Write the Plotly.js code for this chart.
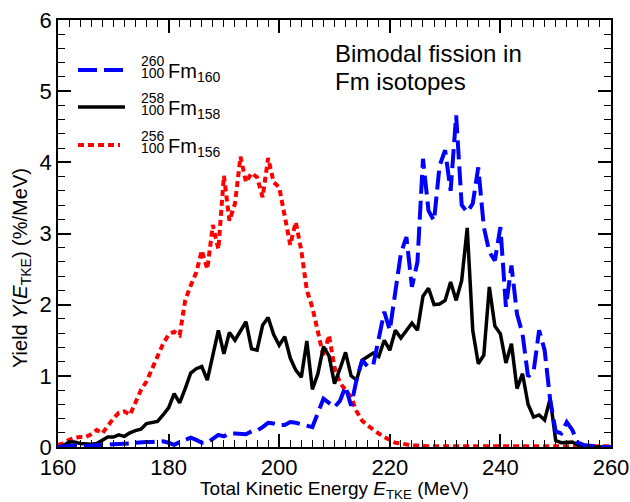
<!DOCTYPE html>
<html>
<head>
<meta charset="utf-8">
<script src="https://cdn.plot.ly/plotly-3.0.1.min.js"></script>
<style>
  html, body { margin: 0; padding: 0; background: #fff; }
  #chart { width: 630px; height: 502px; }
</style>
</head>
<body>
<div id="chart"></div>
<script>
// Total kinetic energy bins (MeV)
const energy = [
  160,161,162,163,164,165,166,167,168,169,
  170,171,172,173,174,175,176,177,178,179,
  180,181,182,183,184,185,186,187,188,189,
  190,191,192,193,194,195,196,197,198,199,
  200,201,202,203,204,205,206,207,208,209,
  210,211,212,213,214,215,216,217,218,219,
  220,221,222,223,224,225,226,227,228,229,
  230,231,232,233,234,235,236,237,238,239,
  240,241,242,243,244,245,246,247,248,249,
  250,251,252,253,254,255,256,257,258,259,
  260
];

// 260Fm160 yield (%/MeV)
const fm260 = [
  0.00,0.01,0.01,0.02,0.02,0.01,0.02,0.02,0.02,0.03,
  0.04,0.04,0.04,0.05,0.06,0.07,0.07,0.07,0.08,0.08,
  0.06,0.03,0.07,0.10,0.13,0.10,0.06,0.06,0.12,0.17,
  0.15,0.19,0.19,0.18,0.18,0.22,0.23,0.28,0.34,0.33,
  0.31,0.31,0.35,0.34,0.32,0.30,0.28,0.48,0.68,0.62,
  0.56,0.65,0.85,0.58,0.95,1.22,1.13,1.15,1.55,1.90,
  1.64,2.20,2.72,2.95,2.25,2.60,4.05,3.32,3.18,3.95,
  4.17,3.60,4.66,3.40,3.30,3.42,3.93,3.09,2.74,2.62,
  3.09,1.97,2.55,1.87,1.59,0.99,1.06,1.64,1.36,0.66,
  0.22,0.19,0.35,0.24,0.06,0.03,0.02,0.00,0.00,0.00,
  0.00
];

// 258Fm158 yield (%/MeV)
const fm258 = [
  0.00,0.02,0.07,0.07,0.05,0.04,0.04,0.05,0.10,0.14,
  0.14,0.17,0.15,0.20,0.23,0.25,0.33,0.34,0.36,0.45,
  0.55,0.75,0.62,0.82,1.04,1.10,1.13,0.94,1.32,1.64,
  1.31,1.61,1.50,1.62,1.76,1.38,1.36,1.71,1.82,1.58,
  1.43,1.55,1.25,1.08,0.98,1.49,0.81,1.03,1.41,1.28,
  0.89,1.10,1.33,1.00,0.94,1.22,1.27,1.32,1.27,1.50,
  1.36,1.64,1.53,1.64,1.74,1.64,2.12,2.23,2.00,2.01,
  2.06,2.32,2.06,2.34,3.08,1.64,1.17,1.29,2.25,1.70,
  1.59,1.18,1.45,0.82,1.03,0.60,0.42,0.45,0.38,0.68,
  0.09,0.06,0.06,0.07,0.03,0.00,0.00,0.00,0.00,0.00,
  0.00
];

// 256Fm156 yield (%/MeV)
const fm256 = [
  0.03,0.05,0.10,0.13,0.14,0.14,0.18,0.24,0.19,0.30,
  0.40,0.48,0.50,0.45,0.63,0.80,0.92,1.10,1.25,1.45,
  1.58,1.62,1.57,2.06,2.27,2.45,2.76,2.50,3.12,2.78,
  3.81,3.18,3.42,4.08,3.72,3.85,3.79,3.51,4.06,3.72,
  3.65,3.24,2.84,3.16,2.76,2.20,1.96,1.62,1.27,1.57,
  1.12,0.90,0.80,0.70,0.50,0.37,0.30,0.24,0.19,0.14,
  0.10,0.06,0.05,0.03,0.02,0.02,0.01,0.01,0.01,0.01,
  0.01,0.01,0.01,0.01,0.01,0.01,0.01,0.01,0.01,0.01,
  0.01,0.01,0.01,0.01,0.01,0.01,0.01,0.01,0.01,0.01,
  0.01,0.01,0.01,0.01,0.01,0.01,0.01,0.01,0.01,0.01,
  0.01
];

const seriesNames = ['260Fm160', '258Fm158', '256Fm156'];
const massNumbers = ['260', '258', '256'];
const neutronNumbers = ['160', '158', '156'];
const protonNumber = '100';
const noteLines = ['Bimodal fission in', 'Fm isotopes'];

const FONT = 'Liberation Sans, Arial, Helvetica, sans-serif';
const L = 58, R = 19, T = 20, B = 55, W = 630, H = 502;
const PW = W - L - R, PH = H - T - B;
const px = v => (v - L) / PW;
const py = v => (H - B - v) / PH;

const styles = [
  {color: '#0000ff', width: 4, dash: '19px,7px'},
  {color: '#000000', width: 3.5, dash: 'solid'},
  {color: '#ff0000', width: 4, dash: '6px,4px'}
];
const ys = [fm260, fm258, fm256];

const traces = [2, 1, 0].map(i => ({
  x: energy, y: ys[i], type: 'scatter', mode: 'lines', name: seriesNames[i],
  line: {color: styles[i].color, width: styles[i].width, dash: styles[i].dash},
  showlegend: false, hoverinfo: 'skip'
}));

// legend samples & labels
const legendRows = [70, 107, 145];
const shapes = [];
const annotations = [];
legendRows.forEach((yy, i) => {
  shapes.push({type: 'line', xref: 'paper', yref: 'paper',
    x0: px(78), x1: px(i === 2 ? 120 : 125), y0: py(yy), y1: py(yy),
    line: {color: styles[i].color, width: styles[i].width, dash: styles[i].dash}});
  annotations.push({xref: 'paper', yref: 'paper', x: px(167), y: py(yy - 9),
    xanchor: 'right', yanchor: 'middle', showarrow: false, text: massNumbers[i],
    font: {family: FONT, size: 14, color: '#000'}});
  annotations.push({xref: 'paper', yref: 'paper', x: px(167), y: py(yy + 3),
    xanchor: 'right', yanchor: 'middle', showarrow: false, text: protonNumber,
    font: {family: FONT, size: 14, color: '#000'}});
  annotations.push({xref: 'paper', yref: 'paper', x: px(166), y: py(yy + 2),
    xanchor: 'left', yanchor: 'middle', showarrow: false,
    text: 'Fm<sub>' + neutronNumbers[i] + '</sub>',
    font: {family: FONT, size: 20, color: '#000'}});
});
noteLines.forEach((t, i) => {
  annotations.push({xref: 'paper', yref: 'paper', x: px(333), y: py(54 + 27 * i),
    xanchor: 'left', yanchor: 'middle', align: 'left', showarrow: false,
    text: t, font: {family: FONT, size: 24, color: '#000'}});
});
annotations.push({xref: 'paper', yref: 'paper', x: px(21), y: py(268),
  xanchor: 'center', yanchor: 'middle', textangle: -90, showarrow: false,
  text: 'Yield <i>Y</i>(<i>E</i><sub>TKE</sub>) (%/MeV)',
  font: {family: FONT, size: 20, color: '#000'}});

const layout = {
  width: W, height: H,
  margin: {l: L, r: R, t: T, b: B},
  paper_bgcolor: '#fff', plot_bgcolor: '#fff',
  xaxis: {
    range: [160, 260], tick0: 160, dtick: 20,
    showline: true, linecolor: '#000', linewidth: 1.5, mirror: 'allticks',
    ticks: 'inside', ticklen: 13, tickwidth: 1.5, tickcolor: '#000',
    showgrid: false, zeroline: false,
    tickfont: {family: FONT, size: 22, color: '#000'},
    minor: {dtick: 2, ticks: 'inside', ticklen: 7, tickwidth: 1.2, tickcolor: '#000', showgrid: false},
    title: {text: 'Total Kinetic Energy <i>E</i><sub>TKE</sub> (MeV)', standoff: 2,
            font: {family: FONT, size: 19, color: '#000'}}
  },
  yaxis: {
    range: [0, 6], tick0: 0, dtick: 1,
    showline: true, linecolor: '#000', linewidth: 1.5, mirror: 'allticks',
    ticks: 'inside', ticklen: 13, tickwidth: 1.5, tickcolor: '#000',
    showgrid: false, zeroline: false,
    tickfont: {family: FONT, size: 22, color: '#000'},
    minor: {dtick: 0.2, ticks: 'inside', ticklen: 7, tickwidth: 1.2, tickcolor: '#000', showgrid: false}
  },
  shapes: shapes,
  annotations: annotations,
  showlegend: false
};

Plotly.newPlot('chart', traces, layout, {displayModeBar: false});
</script>
</body>
</html>
